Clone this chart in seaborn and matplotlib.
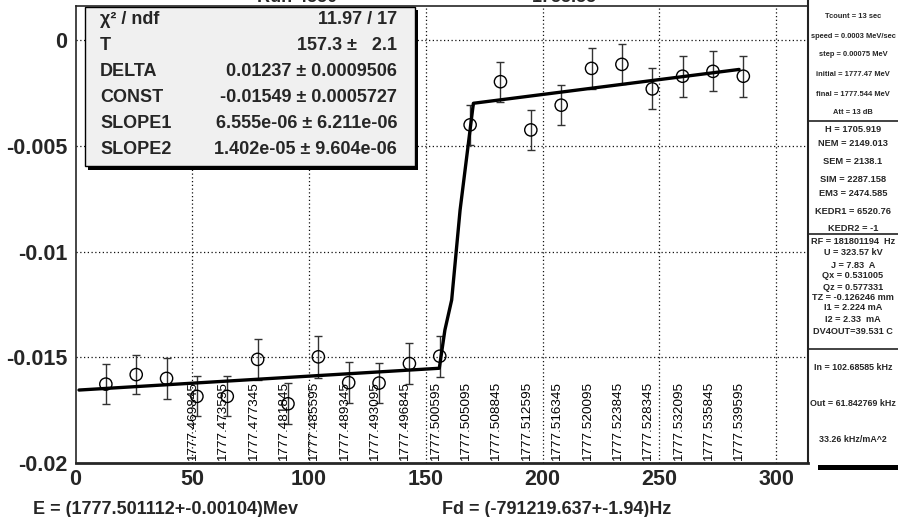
"""   Resonant depolarization scan: asymmetry jump vs time with step fit   """

import matplotlib
matplotlib.use('Agg')
import matplotlib.pyplot as plt
import matplotlib.transforms as mtransforms
from matplotlib.patches import Rectangle
from matplotlib.lines import Line2D
from matplotlib.ticker import MultipleLocator, FixedLocator
import seaborn as sns

# ~~~~~~~~~~   Data   ~~~~~~~~~~~~~~~~~~~~~~~~~~~~~~~~~~~~~~~~~~~~~~~~~~~~~~~~~~~~~~~ #
times = [13, 26, 39, 52, 65, 78, 91, 104, 117, 130, 143,
         156, 169, 182, 195, 208, 221, 234, 247, 260, 273, 286]
asym = [-0.01627, -0.01582, -0.01600, -0.01685, -0.01685, -0.01510, -0.01720,
        -0.01498, -0.01620, -0.01622, -0.01530, -0.01495, -0.00401, -0.00197,
        -0.00425, -0.00308, -0.00134, -0.00115, -0.00231, -0.00171, -0.00148,
        -0.00171]
asym_err = [0.00094, 0.00094, 0.00096, 0.00095, 0.00095, 0.00098, 0.00096,
            0.00099, 0.00098, 0.00096, 0.00096, 0.00097, 0.00095, 0.00095,
            0.00096, 0.00096, 0.00097, 0.00095, 0.00097, 0.00097, 0.00095,
            0.00096]

# fitted step function (as drawn)
fit_t = [1.5, 155.8, 158.2, 161.1, 164.7, 170.4, 284.2]
fit_asym = [-0.01655, -0.01552, -0.01371, -0.01229, -0.00804, -0.00299, -0.00139]

# beam energy written at each point from the 4th on
energy_labels = ['1777.469845', '1777.473595', '1777.477345', '1777.481845',
                 '1777.485595', '1777.489345', '1777.493095', '1777.496845',
                 '1777.500595', '1777.505095', '1777.508845', '1777.512595',
                 '1777.516345', '1777.520095', '1777.523845', '1777.528345',
                 '1777.532095', '1777.535845', '1777.539595']
label_times = times[3:]

xticks = [0, 50, 100, 150, 200, 250, 300]
yticks = [-0.02, -0.015, -0.01, -0.005, 0]
ytick_labels = ['-0.02', '-0.015', '-0.01', '-0.005', '0']

stat_names = ['χ² / ndf', 'T', 'DELTA', 'CONST', 'SLOPE1', 'SLOPE2']
stat_values = ['11.97 / 17', '157.3 ±   2.1', '0.01237 ± 0.0009506',
               '-0.01549 ± 0.0005727', '6.555e-06 ± 6.211e-06',
               '1.402e-05 ± 9.604e-06']

panel_scan = ['Tcount = 13 sec', 'speed = 0.0003 MeV/sec', 'step = 0.00075 MeV',
              'initial = 1777.47 MeV', 'final = 1777.544 MeV', 'Att = 13 dB']
panel_mon = ['H = 1705.919', 'NEM = 2149.013', 'SEM = 2138.1', 'SIM = 2287.158',
             'EM3 = 2474.585', 'KEDR1 = 6520.76', 'KEDR2 = -1']
panel_beam = ['RF = 181801194  Hz', 'U = 323.57 kV', 'J = 7.83  A',
              'Qx = 0.531005', 'Qz = 0.577331', 'TZ = -0.126246 mm',
              'I1 = 2.224 mA', 'I2 = 2.33  mA', 'DV4OUT=39.531 C']
panel_freq = ['In = 102.68585 kHz', 'Out = 61.842769 kHz', '33.26 kHz/mA^2']

energy_text = 'E = (1777.501112+-0.00104)Mev'
fd_text = 'Fd = (-791219.637+-1.94)Hz'
title_left = 'Run 4550'
title_right = '1755.55'

# ~~~~~~~~~~   Figure   ~~~~~~~~~~~~~~~~~~~~~~~~~~~~~~~~~~~~~~~~~~~~~~~~~~~~~~~~~~~~~~ #
W, H = 898, 517
sns.set_style('white')
plt.rcParams['font.family'] = ['Liberation Sans', 'DejaVu Sans']
plt.rcParams['axes.unicode_minus'] = False

fig = plt.figure(figsize=(W / 100, H / 100), dpi=100)


def fx(px):
    return px / W


def fy(py):
    return 1 - py / H


ax = fig.add_axes([fx(75.5), fy(463), fx(808) - fx(75.5), fy(6) - fy(463)])

# grid
for xv in xticks[1:]:
    ax.axvline(xv, color='#111111', lw=0.9, ls=(0, (1, 2)), zorder=0)
for yv in yticks[1:]:
    ax.axhline(yv, color='#111111', lw=0.9, ls=(0, (1, 2)), zorder=0)

# fit line
sns.lineplot(x=fit_t, y=fit_asym, ax=ax, color='black', lw=2.4,
             sort=False, estimator=None, zorder=3)

# data points with error bars
ax.errorbar(times, asym, yerr=asym_err, fmt='none', ecolor='#333333',
            elinewidth=1, capsize=3, capthick=1, zorder=2)
sns.scatterplot(x=times, y=asym, ax=ax, marker='o', s=78, facecolor='none',
                edgecolor='black', linewidth=1, zorder=4)

# energy labels
shift = mtransforms.ScaledTranslation(-0.04, 0.02, fig.dpi_scale_trans)
for t, lab in zip(label_times, energy_labels):
    ax.text(t, -0.02, lab, rotation=90, ha='center', va='bottom',
            fontsize=9.7, color='black', transform=ax.transData + shift, zorder=5)

# axes look
ax.set_xlim(0, 313.7)
ax.set_ylim(-0.02, 0.00161)
ax.xaxis.set_major_locator(FixedLocator(xticks))
ax.xaxis.set_minor_locator(MultipleLocator(10))
ax.yaxis.set_major_locator(FixedLocator(yticks))
ax.yaxis.set_minor_locator(MultipleLocator(0.001))
ax.set_xticklabels([str(v) for v in xticks], fontsize=15.5, fontweight='bold')
ax.set_yticklabels(ytick_labels, fontsize=15.5, fontweight='bold')
ax.tick_params(axis='x', which='major', direction='in', length=9.4, width=1,
               pad=4, top=False)
ax.tick_params(axis='x', which='minor', direction='in', length=5, width=1, top=False)
ax.tick_params(axis='y', which='major', direction='in', length=15, width=1,
               pad=6, right=False)
ax.tick_params(axis='y', which='minor', direction='in', length=7.5, width=1, right=False)
for side in ['left', 'top', 'right']:
    ax.spines[side].set_linewidth(1.2)
ax.spines['bottom'].set_linewidth(2)
ax.set_xlabel('')
ax.set_ylabel('')

# stats box with shadow
fig.patches.append(Rectangle((fx(88), fy(170)), fx(418) - fx(88), fy(10) - fy(170),
                             transform=fig.transFigure, facecolor='black',
                             edgecolor='none', zorder=5))
fig.patches.append(Rectangle((fx(85), fy(166)), fx(415) - fx(85), fy(7) - fy(166),
                             transform=fig.transFigure, facecolor='#f0f0f0',
                             edgecolor='black', lw=1, zorder=6))
row_y = [20, 45, 72, 98, 124, 150]
for name, val, ry in zip(stat_names, stat_values, row_y):
    fig.text(fx(100), fy(ry), name, ha='left', va='center', fontsize=13,
             fontweight='bold', zorder=7)
    fig.text(fx(397), fy(ry), val, ha='right', va='center', fontsize=13,
             fontweight='bold', zorder=7)

# right info panel
fig.add_artist(Line2D([fx(808), fx(808)], [fy(0), fy(463)], color='#222222', lw=1.5))
for ly in [121, 234, 349]:
    fig.add_artist(Line2D([fx(808), fx(898)], [fy(ly), fy(ly)], color='#222222', lw=1.2))
fig.patches.append(Rectangle((fx(818), fy(470)), fx(898) - fx(818), fy(465) - fy(470),
                             transform=fig.transFigure, facecolor='black',
                             edgecolor='none'))

scan_y = [17, 36, 55, 74, 94, 113]
mon_y = [129, 144, 161, 179, 194, 211, 228]
beam_y = [242, 253, 265, 276, 287, 298, 308, 319, 331]
freq_y = [368, 403, 439]
for texts, ys, size in [(panel_scan, scan_y, 5.4), (panel_mon, mon_y, 6.7),
                        (panel_beam, beam_y, 6.6), (panel_freq, freq_y, 6.4)]:
    for txt, ty in zip(texts, ys):
        fig.text(fx(853), fy(ty), txt, ha='center', va='center', fontsize=size,
                 fontweight='bold')

# bottom fit results and cut-off title
fig.text(fx(33), fy(510), energy_text, ha='left', va='center', fontsize=13,
         fontweight='bold')
fig.text(fx(442), fy(510), fd_text, ha='left', va='center', fontsize=13,
         fontweight='bold')
fig.text(fx(297), fy(2.2), title_left, ha='center', va='baseline', fontsize=13,
         fontweight='bold')
fig.text(fx(564), fy(2.2), title_right, ha='center', va='baseline', fontsize=13,
         fontweight='bold')

fig.savefig('out.png', dpi=100, facecolor='white')
